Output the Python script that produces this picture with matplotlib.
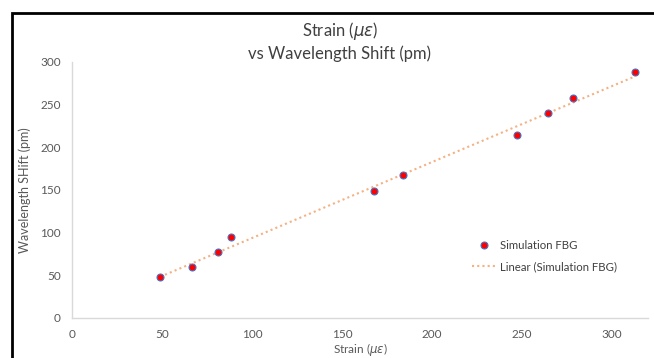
import numpy as np
import matplotlib
matplotlib.use('Agg')
from matplotlib import pyplot as plt
from matplotlib.patches import Rectangle

strain = [49, 66.8, 81.2, 88.2, 167.7, 184, 247, 264.6, 278.2, 312.9]
shift = [47.5, 59.5, 76.8, 95.4, 149.4, 167.2, 214.1, 240.2, 257.5, 287.9]
x_ticks = [0, 50, 100, 150, 200, 250, 300]
y_ticks = [0, 50, 100, 150, 200, 250, 300]

plt.rcParams['font.family'] = ['Lato', 'DejaVu Sans']
plt.rcParams['mathtext.fontset'] = 'dejavusans'


def main():
    fig = plt.figure(figsize=(6.54, 3.58), dpi=100)
    ax = fig.add_axes([72 / 654, 1 - 318 / 358, 576 / 654, 256 / 358])

    # outer chart border (only top and left visible in the reference)
    fig.patches.append(Rectangle((12 / 654, -0.1), 1.1, (358 - 13) / 358 + 0.1,
                                 transform=fig.transFigure, fill=False,
                                 edgecolor='black', linewidth=2))

    coef = np.polyfit(strain, shift, 1)
    xs = np.array([min(strain), max(strain)])
    ax.plot(xs, np.polyval(coef, xs), linestyle=(0, (1, 1.5)), color='#F4B183',
            linewidth=1.5, label='Linear (Simulation FBG)', zorder=2)
    ax.plot(strain, shift, 'o', markersize=5, markerfacecolor='#FF0000',
            markeredgecolor='#4472C4', markeredgewidth=0.8,
            label='Simulation FBG', linestyle='none', zorder=3)

    ax.set_xlim(0, 320)
    ax.set_ylim(0, 300)
    ax.set_xticks(x_ticks)
    ax.set_yticks(y_ticks)
    ax.tick_params(length=0, labelsize=8.5, colors='#595959', pad=8)
    for s in ['top', 'right']:
        ax.spines[s].set_visible(False)
    for s in ['left', 'bottom']:
        ax.spines[s].set_color('#D9D9D9')
        ax.spines[s].set_linewidth(1)

    ax.set_xlabel('Strain ($\\mu\\varepsilon$)', fontsize=8.5, color='#595959', labelpad=1)
    ax.set_ylabel('Wavelength SHift (pm)', fontsize=9, color='#595959', labelpad=7)
    fig.text(340 / 654, 1 - 41 / 358, 'Strain ($\\mu\\varepsilon$)\nvs Wavelength Shift (pm)',
             ha='center', va='center', fontsize=12, color='#404040', linespacing=1.3)

    handles, labels = ax.get_legend_handles_labels()
    ax.legend(handles[::-1], labels[::-1], loc='center left',
              bbox_to_anchor=((462 - 72) / 576, (318 - 256) / 256),
              frameon=False, fontsize=8.2, labelcolor='#404040',
              handlelength=2.0, handletextpad=0.4, labelspacing=0.9)

    fig.savefig('out.png', dpi=100)


if __name__ == "__main__":
    main()
